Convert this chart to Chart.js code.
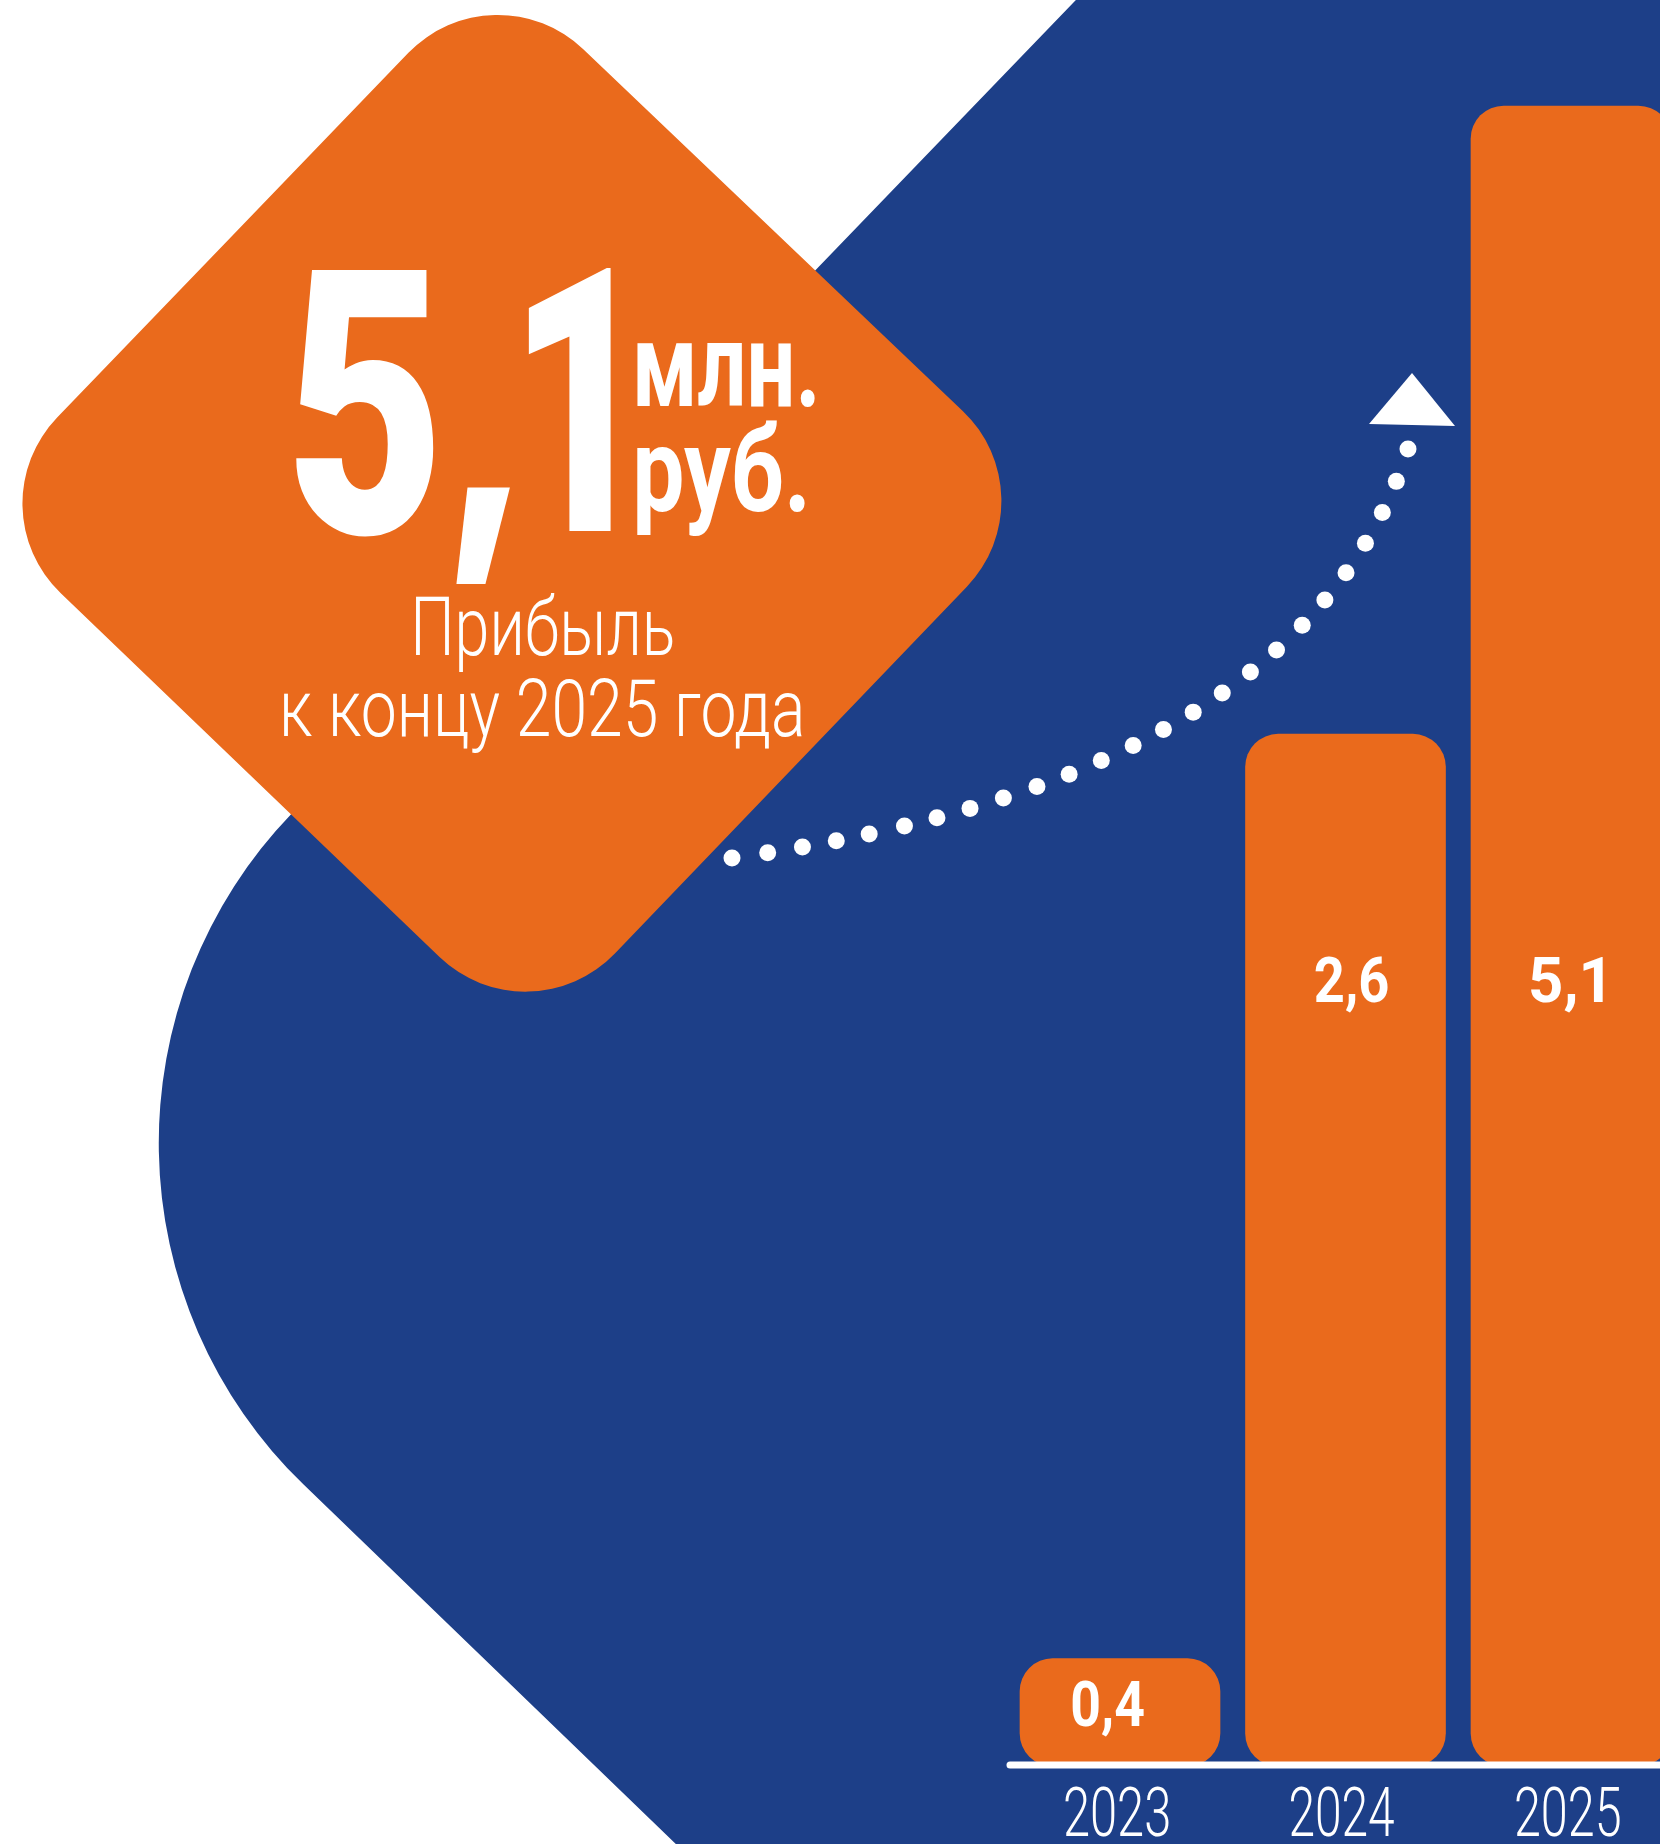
<!DOCTYPE html>
<html lang="ru">
<head>
<meta charset="utf-8">
<title>Прибыль к концу 2025 года</title>
<script src="https://cdn.jsdelivr.net/npm/chart.js@4.4.1/dist/chart.umd.min.js"></script>
<style>
    html, body { margin: 0; padding: 0; background: #fff; overflow: hidden; }
    #wrap { width: 1660px; height: 1844px; position: relative; }
</style>
</head>
<body>
<div id="wrap"><canvas id="profitChart"></canvas></div>
<script>
// Data
const years = ['2023', '2024', '2025'];
const profitLabels = ['0,4', '2,6', '5,1'];      // подписи на столбцах, млн руб.
const barLevels = [0.33, 3.17, 5.1];             // высота столбцов как на макете (не в масштабе подписей)
const headlineDigits = ['5', '1'];
const headlineUnits = ['млн.', 'руб.'];
const captionLines = ['Прибыль', 'к концу 2025 года'];

const ORANGE = '#EA6A1C';
const BLUE = '#1D3F88';
const WHITE = '#FFFFFF';
const FONT = 'Roboto, "Noto Sans", "DejaVu Sans", sans-serif';

// Draw text so that its ink spans x0..x1 (squeezed horizontally)
function inkText(ctx, text, x0, x1, baseline, size, weight, family) {
    ctx.save();
    ctx.font = `${weight} ${size}px ${family || FONT}`;
    ctx.textAlign = 'left';
    ctx.textBaseline = 'alphabetic';
    const m = ctx.measureText(text);
    const inkLeft = -m.actualBoundingBoxLeft;
    const inkW = m.actualBoundingBoxRight + m.actualBoundingBoxLeft;
    const k = (x1 - x0) / inkW;
    ctx.translate(x0, baseline);
    ctx.scale(k, 1);
    ctx.fillStyle = WHITE;
    ctx.fillText(text, -inkLeft, 0);
    ctx.restore();
}

// Centered variant: ink centered at cx with given width
function inkCenter(ctx, text, cx, width, baseline, size, weight) {
    inkText(ctx, text, cx - width / 2, cx + width / 2, baseline, size, weight);
}

// Draw text so that its ink fills a box
function inkBox(ctx, text, x0, y0, x1, y1, size, weight, family) {
    ctx.save();
    ctx.font = `${weight} ${size}px ${family}`;
    ctx.textAlign = 'left';
    ctx.textBaseline = 'alphabetic';
    const m = ctx.measureText(text);
    const inkW = m.actualBoundingBoxRight + m.actualBoundingBoxLeft;
    const inkH = m.actualBoundingBoxAscent + m.actualBoundingBoxDescent;
    ctx.translate(x0, y0);
    ctx.scale((x1 - x0) / inkW, (y1 - y0) / inkH);
    ctx.fillStyle = WHITE;
    ctx.fillText(text, m.actualBoundingBoxLeft, m.actualBoundingBoxAscent);
    ctx.restore();
}

// Rounded polygon through sharp corner points
function roundedPoly(ctx, pts, r) {
    const n = pts.length;
    const start = [(pts[n - 1][0] + pts[0][0]) / 2, (pts[n - 1][1] + pts[0][1]) / 2];
    ctx.beginPath();
    ctx.moveTo(start[0], start[1]);
    for (let i = 0; i < n; i++) {
        const p = pts[i];
        const q = pts[(i + 1) % n];
        ctx.arcTo(p[0], p[1], q[0], q[1], r);
    }
    ctx.closePath();
}

// Background shapes, dotted arrow, texts
const backdropPlugin = {
    id: 'backdrop',
    beforeDatasetsDraw(chart) {
        const ctx = chart.ctx;
        ctx.save();
        ctx.fillStyle = WHITE;
        ctx.fillRect(0, 0, chart.width, chart.height);

        // big blue shape with round left corner
        ctx.fillStyle = BLUE;
        ctx.beginPath();
        ctx.moveTo(1847, -800);
        ctx.lineTo(3500, -800);
        ctx.lineTo(3500, 2800);
        ctx.lineTo(1666, 2800);
        ctx.arcTo(-37.6, 1155.2, 1847, -800, 475);
        ctx.lineTo(1847, -800);
        ctx.closePath();
        ctx.fill();

        // orange rounded diamond
        ctx.fillStyle = ORANGE;
        roundedPoly(ctx, [[494, -36], [1053, 497], [529, 1043], [-29, 507]], 124);
        ctx.fill();

        // dotted curve
        const p0 = [732, 858], p1 = [1303, 779], p2 = [1408, 449];
        const samples = [];
        let total = 0;
        let prev = p0;
        for (let i = 0; i <= 600; i++) {
            const t = i / 600;
            const x = (1 - t) * (1 - t) * p0[0] + 2 * (1 - t) * t * p1[0] + t * t * p2[0];
            const y = (1 - t) * (1 - t) * p0[1] + 2 * (1 - t) * t * p1[1] + t * t * p2[1];
            total += Math.hypot(x - prev[0], y - prev[1]);
            samples.push([x, y, total]);
            prev = [x, y];
        }
        const dots = 25;
        ctx.fillStyle = WHITE;
        let j = 0;
        for (let d = 0; d < dots; d++) {
            const target = total * d / (dots - 1);
            while (j < samples.length - 1 && samples[j][2] < target) j++;
            ctx.beginPath();
            ctx.arc(samples[j][0], samples[j][1], 8.5, 0, Math.PI * 2);
            ctx.fill();
        }

        // arrow head
        ctx.beginPath();
        ctx.moveTo(1412, 373);
        ctx.lineTo(1455, 426);
        ctx.lineTo(1369, 424);
        ctx.closePath();
        ctx.fill();
        ctx.restore();
    },
    afterDatasetsDraw(chart) {
        const ctx = chart.ctx;
        const meta = chart.getDatasetMeta(0);
        const x = chart.scales.x;

        // base line
        const first = meta.data[0];
        ctx.save();
        ctx.strokeStyle = WHITE;
        ctx.lineWidth = 7;
        ctx.lineCap = 'round';
        ctx.beginPath();
        ctx.moveTo(first.x - first.width / 2 - 10, 1765);
        ctx.lineTo(chart.width + 10, 1765);
        ctx.stroke();
        ctx.restore();

        // bar value labels
        const labelShift = [-12, 6, -4];
        meta.data.forEach((bar, i) => {
            let base = 1002;
            if (bar.y > 900) base = (bar.y + bar.base) / 2 + 14;
            inkCenter(ctx, profitLabels[i], bar.x + labelShift[i], 72, base, 63, 700);
        });

        // year labels under the axis
        years.forEach((yr, i) => {
            inkCenter(ctx, yr, x.getPixelForValue(i) - 3, 104, 1836, 69, 300);
        });

        // headline
        inkText(ctx, headlineDigits[0], 294, 436, 533, 370, 900);
        inkBox(ctx, ',', 456, 487, 510, 584, 200, 800, 'Inter, "Open Sans", sans-serif');
        inkText(ctx, headlineDigits[1], 528, 614, 531, 370, 900);
        inkText(ctx, headlineUnits[0], 637, 815, 406, 119, 700);
        inkText(ctx, headlineUnits[1], 637, 805, 511, 119, 700);
        inkCenter(ctx, captionLines[0], 544, 257, 655, 82, 300);
        inkCenter(ctx, captionLines[1], 543, 518, 736, 79, 300);
    }
};

document.addEventListener('DOMContentLoaded', function () {
    const ctx = document.getElementById('profitChart').getContext('2d');
    new Chart(ctx, {
        type: 'bar',
        data: {
            labels: years,
            datasets: [{
                data: barLevels,
                backgroundColor: ORANGE,
                borderRadius: 33,
                borderSkipped: false,
                barThickness: 200,
                clip: false
            }]
        },
        options: {
            responsive: true,
            maintainAspectRatio: false,
            animation: false,
            devicePixelRatio: 1,
            layout: {
                padding: { left: 1120, right: 89, top: 106, bottom: 78 }
            },
            plugins: {
                legend: { display: false },
                tooltip: { enabled: false }
            },
            scales: {
                x: { display: false, offset: false },
                y: { display: false, min: 0, max: 5.1 }
            }
        },
        plugins: [backdropPlugin]
    });
});
</script>
</body>
</html>
